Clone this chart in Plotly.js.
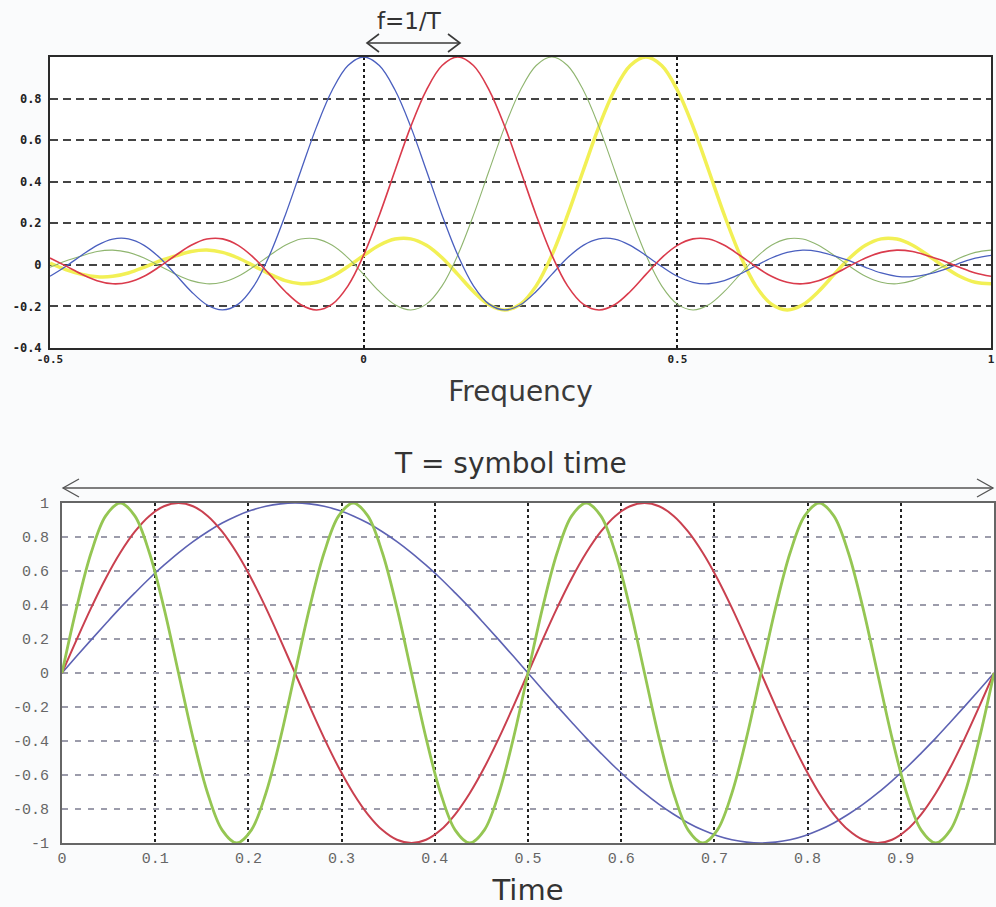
<!DOCTYPE html>
<html>
<head>
<meta charset="utf-8">
<script src="https://cdn.plot.ly/plotly-3.0.1.min.js"></script>
<style>
  html, body { margin: 0; padding: 0; background: #fafbfc; }
  #chart { width: 996px; height: 907px; }
</style>
</head>
<body>
<div id="chart"></div>
<script>
// ---------- Top panel: frequency domain (sinc subcarriers) ----------
const freq = [-0.5, -0.475, -0.45, -0.425, -0.4, -0.375, -0.35, -0.325, -0.3, -0.275,
  -0.25, -0.225, -0.2, -0.175, -0.15, -0.125, -0.1, -0.075, -0.05, -0.025,
  0, 0.025, 0.05, 0.075, 0.1, 0.125, 0.15, 0.175, 0.2, 0.225,
  0.25, 0.275, 0.3, 0.325, 0.35, 0.375, 0.4, 0.425, 0.45, 0.475,
  0.5, 0.525, 0.55, 0.575, 0.6, 0.625, 0.65, 0.675, 0.7, 0.725,
  0.75, 0.775, 0.8, 0.825, 0.85, 0.875, 0.9, 0.925, 0.95, 0.975, 1];

const sincBlue = [-0.055, -0.008, 0.045, 0.094, 0.124, 0.125, 0.094, 0.034, -0.046, -0.128,
  -0.192, -0.217, -0.189, -0.101, 0.047, 0.239, 0.454, 0.665, 0.841, 0.959,
  1, 0.959, 0.841, 0.665, 0.454, 0.239, 0.047, -0.101, -0.189, -0.217,
  -0.192, -0.128, -0.046, 0.034, 0.094, 0.125, 0.124, 0.094, 0.045, -0.008,
  -0.055, -0.084, -0.091, -0.076, -0.044, -0.005, 0.033, 0.060, 0.071, 0.064,
  0.043, 0.019, -0.012, -0.039, -0.055, -0.057, -0.045, -0.023, 0.008, 0.032, 0.046];

const sincRed = [0.033, -0.005, -0.044, -0.076, -0.091, -0.084, -0.055, -0.008, 0.045, 0.094,
  0.124, 0.125, 0.094, 0.034, -0.046, -0.128, -0.192, -0.217, -0.189, -0.101,
  0.047, 0.239, 0.454, 0.665, 0.841, 0.959, 1, 0.959, 0.841, 0.665,
  0.454, 0.239, 0.047, -0.101, -0.189, -0.217, -0.192, -0.128, -0.046, 0.034,
  0.094, 0.125, 0.124, 0.094, 0.045, -0.008, -0.055, -0.084, -0.091, -0.076,
  -0.044, -0.005, 0.033, 0.060, 0.071, 0.064, 0.043, 0.019, -0.012, -0.039, -0.055];

const sincGreen = [-0.012, 0.019, 0.043, 0.064, 0.071, 0.060, 0.033, -0.005, -0.044, -0.076,
  -0.091, -0.084, -0.055, -0.008, 0.045, 0.094, 0.124, 0.125, 0.094, 0.034,
  -0.046, -0.128, -0.192, -0.217, -0.189, -0.101, 0.047, 0.239, 0.454, 0.665,
  0.841, 0.959, 1, 0.959, 0.841, 0.665, 0.454, 0.239, 0.047, -0.101,
  -0.189, -0.217, -0.192, -0.128, -0.046, 0.034, 0.094, 0.125, 0.124, 0.094,
  0.045, -0.008, -0.055, -0.084, -0.091, -0.076, -0.044, -0.005, 0.033, 0.060, 0.071];

const sincYellow = [0.008, -0.023, -0.045, -0.057, -0.055, -0.039, -0.012, 0.019, 0.043, 0.064,
  0.071, 0.060, 0.033, -0.005, -0.044, -0.076, -0.091, -0.084, -0.055, -0.008,
  0.045, 0.094, 0.124, 0.125, 0.094, 0.034, -0.046, -0.128, -0.192, -0.217,
  -0.189, -0.101, 0.047, 0.239, 0.454, 0.665, 0.841, 0.959, 1, 0.959,
  0.841, 0.665, 0.454, 0.239, 0.047, -0.101, -0.189, -0.217, -0.192, -0.128,
  -0.046, 0.034, 0.094, 0.125, 0.124, 0.094, 0.045, -0.008, -0.055, -0.084, -0.091];

const freqTickVals = [-0.5, 0, 0.5, 1];
const freqTickText = ['-0.5', '0', '0.5', '1'];
const ampTickVals = [-0.4, -0.2, 0, 0.2, 0.4, 0.6, 0.8];
const ampTickText = ['-0.4', '-0.2', '0', '0.2', '0.4', '0.6', '0.8'];

// ---------- Bottom panel: time domain (subcarrier sinusoids) ----------
const time = [0, 0.015625, 0.03125, 0.046875, 0.0625, 0.078125, 0.09375, 0.109375,
  0.125, 0.140625, 0.15625, 0.171875, 0.1875, 0.203125, 0.21875, 0.234375,
  0.25, 0.265625, 0.28125, 0.296875, 0.3125, 0.328125, 0.34375, 0.359375,
  0.375, 0.390625, 0.40625, 0.421875, 0.4375, 0.453125, 0.46875, 0.484375,
  0.5, 0.515625, 0.53125, 0.546875, 0.5625, 0.578125, 0.59375, 0.609375,
  0.625, 0.640625, 0.65625, 0.671875, 0.6875, 0.703125, 0.71875, 0.734375,
  0.75, 0.765625, 0.78125, 0.796875, 0.8125, 0.828125, 0.84375, 0.859375,
  0.875, 0.890625, 0.90625, 0.921875, 0.9375, 0.953125, 0.96875, 0.984375, 1];

const waveBlue = [0, 0.098, 0.195, 0.290, 0.383, 0.471, 0.556, 0.634,
  0.707, 0.773, 0.831, 0.882, 0.924, 0.957, 0.981, 0.995,
  1, 0.995, 0.981, 0.957, 0.924, 0.882, 0.831, 0.773,
  0.707, 0.634, 0.556, 0.471, 0.383, 0.290, 0.195, 0.098,
  0, -0.098, -0.195, -0.290, -0.383, -0.471, -0.556, -0.634,
  -0.707, -0.773, -0.831, -0.882, -0.924, -0.957, -0.981, -0.995,
  -1, -0.995, -0.981, -0.957, -0.924, -0.882, -0.831, -0.773,
  -0.707, -0.634, -0.556, -0.471, -0.383, -0.290, -0.195, -0.098, 0];

const waveRed = [0, 0.195, 0.383, 0.556, 0.707, 0.831, 0.924, 0.981,
  1, 0.981, 0.924, 0.831, 0.707, 0.556, 0.383, 0.195,
  0, -0.195, -0.383, -0.556, -0.707, -0.831, -0.924, -0.981,
  -1, -0.981, -0.924, -0.831, -0.707, -0.556, -0.383, -0.195,
  0, 0.195, 0.383, 0.556, 0.707, 0.831, 0.924, 0.981,
  1, 0.981, 0.924, 0.831, 0.707, 0.556, 0.383, 0.195,
  0, -0.195, -0.383, -0.556, -0.707, -0.831, -0.924, -0.981,
  -1, -0.981, -0.924, -0.831, -0.707, -0.556, -0.383, -0.195, 0];

const waveGreen = [0, 0.383, 0.707, 0.924, 1, 0.924, 0.707, 0.383,
  0, -0.383, -0.707, -0.924, -1, -0.924, -0.707, -0.383,
  0, 0.383, 0.707, 0.924, 1, 0.924, 0.707, 0.383,
  0, -0.383, -0.707, -0.924, -1, -0.924, -0.707, -0.383,
  0, 0.383, 0.707, 0.924, 1, 0.924, 0.707, 0.383,
  0, -0.383, -0.707, -0.924, -1, -0.924, -0.707, -0.383,
  0, 0.383, 0.707, 0.924, 1, 0.924, 0.707, 0.383,
  0, -0.383, -0.707, -0.924, -1, -0.924, -0.707, -0.383, 0];

const timeTickVals = [0, 0.1, 0.2, 0.3, 0.4, 0.5, 0.6, 0.7, 0.8, 0.9, 1];
const timeTickText = ['0', '0.1', '0.2', '0.3', '0.4', '0.5', '0.6', '0.7', '0.8', '0.9', '1'];
const waveTickVals = [-1, -0.8, -0.6, -0.4, -0.2, 0, 0.2, 0.4, 0.6, 0.8, 1];
const waveTickText = ['-1', '-0.8', '-0.6', '-0.4', '-0.2', '0', '0.2', '0.4', '0.6', '0.8', '1'];

// ---------- helpers for pixel -> paper placement ----------
const W = 996, H = 907;
const X = p => p / W;
const Y = p => 1 - p / H;

const traces = [
  {x: freq, y: sincYellow, xaxis: 'x', yaxis: 'y', mode: 'lines', line: {color: '#f2f055', width: 3.5, shape: 'spline'}, hoverinfo: 'skip'},
  {x: freq, y: sincGreen, xaxis: 'x', yaxis: 'y', mode: 'lines', line: {color: '#8fb56f', width: 1.1, shape: 'spline'}, hoverinfo: 'skip'},
  {x: freq, y: sincBlue, xaxis: 'x', yaxis: 'y', mode: 'lines', line: {color: '#4a5fbf', width: 1.3, shape: 'spline'}, hoverinfo: 'skip'},
  {x: freq, y: sincRed, xaxis: 'x', yaxis: 'y', mode: 'lines', line: {color: '#da3b4c', width: 1.6, shape: 'spline'}, hoverinfo: 'skip'},
  {x: time, y: waveBlue, xaxis: 'x2', yaxis: 'y2', mode: 'lines', line: {color: '#5d62b3', width: 1.6, shape: 'spline'}, hoverinfo: 'skip'},
  {x: time, y: waveRed, xaxis: 'x2', yaxis: 'y2', mode: 'lines', line: {color: '#c9404f', width: 2, shape: 'spline'}, hoverinfo: 'skip'},
  {x: time, y: waveGreen, xaxis: 'x2', yaxis: 'y2', mode: 'lines', line: {color: '#95c653', width: 2.8, shape: 'spline'}, hoverinfo: 'skip'}
];

const arrowColor = '#3a3a3a';
const layout = {
  width: W, height: H,
  margin: {l: 0, r: 0, t: 0, b: 0},
  paper_bgcolor: '#fafbfc',
  plot_bgcolor: '#ffffff',
  showlegend: false,
  font: {family: 'DejaVu Sans, sans-serif', color: '#333'},
  xaxis: {
    domain: [X(50), X(991)], range: [-0.5, 1], anchor: 'y',
    tickvals: freqTickVals, ticktext: freqTickText, ticks: '',
    tickfont: {family: 'DejaVu Sans Mono, monospace', size: 11, color: '#222', weight: 'bold'},
    showgrid: true, gridcolor: '#1a1a1a', gridwidth: 2, griddash: 'dot',
    zeroline: false, showline: true, linecolor: '#2a2a2a', linewidth: 2, mirror: true,
    title: {text: 'Frequency', font: {family: 'DejaVu Sans, sans-serif', size: 28, color: '#3a3a3a'}, standoff: 16}
  },
  yaxis: {
    domain: [Y(348), Y(57)], range: [-0.4, 1.0], anchor: 'x',
    tickvals: ampTickVals, ticktext: ampTickText, ticks: '',
    tickfont: {family: 'DejaVu Sans Mono, monospace', size: 12, color: '#222', weight: 'bold'},
    ticklabelstandoff: 4,
    showgrid: true, gridcolor: '#444', gridwidth: 2, griddash: '8px,5px',
    zeroline: false, showline: true, linecolor: '#2a2a2a', linewidth: 2, mirror: true
  },
  xaxis2: {
    domain: [X(62), X(994)], range: [0, 1], anchor: 'y2',
    tickvals: timeTickVals, ticktext: timeTickText, ticks: '',
    tickfont: {family: 'Liberation Mono, monospace', size: 15, color: '#666'},
    showgrid: true, gridcolor: '#222', gridwidth: 2, griddash: 'dot',
    zeroline: false, showline: true, linecolor: '#666', linewidth: 2, mirror: true,
    title: {text: 'Time', font: {family: 'DejaVu Sans, sans-serif', size: 29, color: '#333'}, standoff: 16}
  },
  yaxis2: {
    domain: [Y(843), Y(503)], range: [-1, 1], anchor: 'x2',
    tickvals: waveTickVals, ticktext: waveTickText, ticks: '',
    tickfont: {family: 'Liberation Mono, monospace', size: 15, color: '#666'},
    ticklabelstandoff: 8,
    showgrid: true, gridcolor: '#9c9cab', gridwidth: 1.5, griddash: '6px,7px',
    zeroline: false, showline: true, linecolor: '#666', linewidth: 2, mirror: true
  },
  annotations: [
    {text: 'f=1/T', xref: 'paper', yref: 'paper', x: X(409), y: Y(21), showarrow: false,
     font: {family: 'DejaVu Sans, sans-serif', size: 23, color: '#333'}, xanchor: 'center', yanchor: 'middle'},
    {text: 'T = symbol time', xref: 'paper', yref: 'paper', x: X(510), y: Y(463), showarrow: false,
     font: {family: 'DejaVu Sans, sans-serif', size: 28, color: '#333'}, xanchor: 'center', yanchor: 'middle'}
  ],
  shapes: [
    // f = 1/T double arrow
    {type: 'line', xref: 'paper', yref: 'paper', x0: X(367), y0: Y(43), x1: X(460), y1: Y(43), line: {color: arrowColor, width: 1.6}},
    {type: 'path', xref: 'paper', yref: 'paper', path: `M${X(379)},${Y(34)} L${X(367)},${Y(43)} L${X(379)},${Y(52)}`, line: {color: arrowColor, width: 1.6}},
    {type: 'path', xref: 'paper', yref: 'paper', path: `M${X(448)},${Y(34)} L${X(460)},${Y(43)} L${X(448)},${Y(52)}`, line: {color: arrowColor, width: 1.6}},
    // T = symbol time double arrow
    {type: 'line', xref: 'paper', yref: 'paper', x0: X(63), y0: Y(488), x1: X(993), y1: Y(488), line: {color: '#555', width: 1.6}},
    {type: 'path', xref: 'paper', yref: 'paper', path: `M${X(79)},${Y(479)} L${X(63)},${Y(488)} L${X(79)},${Y(497)}`, line: {color: '#555', width: 1.3}},
    {type: 'path', xref: 'paper', yref: 'paper', path: `M${X(977)},${Y(479)} L${X(993)},${Y(488)} L${X(977)},${Y(497)}`, line: {color: '#555', width: 1.3}}
  ]
};

Plotly.newPlot('chart', traces, layout, {staticPlot: true, displayModeBar: false});
</script>
</body>
</html>
